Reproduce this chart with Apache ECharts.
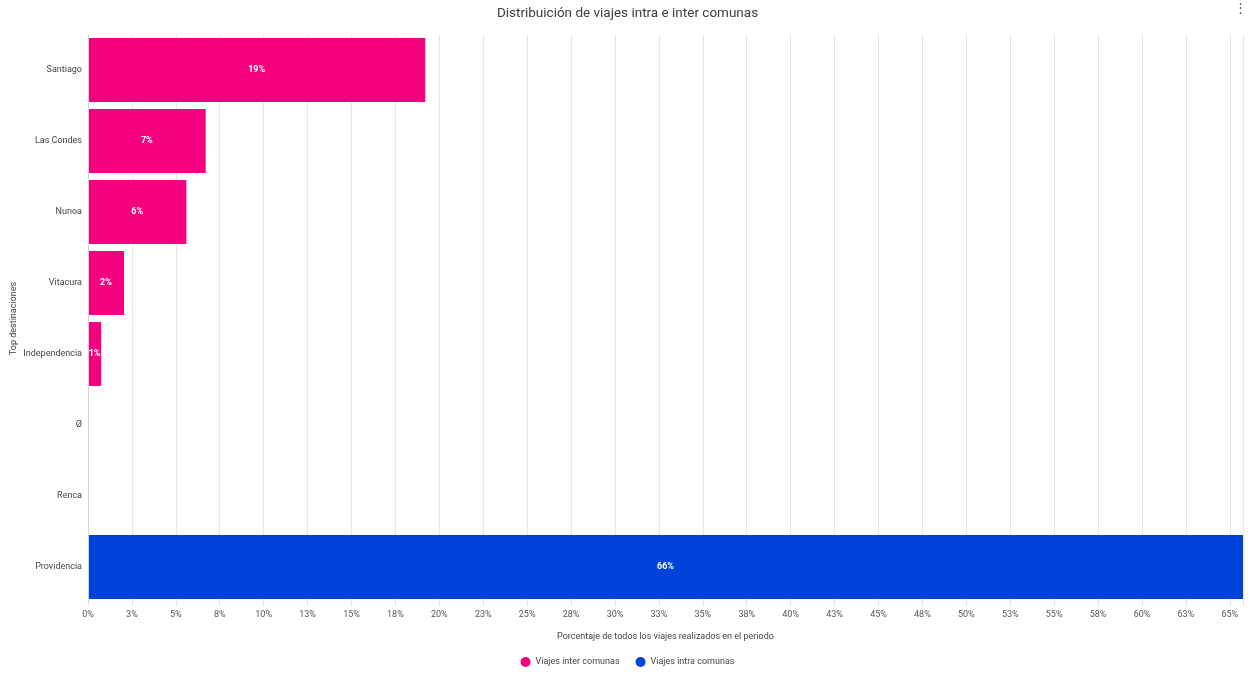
<!DOCTYPE html>
<html>
<head>
<meta charset="utf-8">
<script src="https://cdn.jsdelivr.net/npm/echarts@6/dist/echarts.min.js"></script>
<style>html,body{margin:0;padding:0;background:#fff}#c{width:1255px;height:675px}</style>
</head>
<body>
<div id="c"></div>
<script>
const categories = ['Santiago', 'Las Condes', 'Nunoa', 'Vitacura', 'Independencia', 'Ø', 'Renca', 'Providencia'];
const interValues = [19.2, 6.7, 5.6, 2.05, 0.75, 0.01, 0.01, '-'];
const intraValues = ['-', '-', '-', '-', '-', '-', '-', 65.75];
const seriesNames = ['Viajes inter comunas', 'Viajes intra comunas'];
const titleText = 'Distribuición de viajes intra e inter comunas';
const xAxisTitle = 'Porcentaje de todos los viajes realizados en el periodo';
const yAxisTitle = 'Top destinaciones';

const allVals = interValues.concat(intraValues).filter(v => v !== '-');
const maxVal = Math.max.apply(null, allVals);

const chart = echarts.init(document.getElementById('c'));
const fontFamily = 'Roboto, "Noto Sans", sans-serif';
const barLabel = {
  show: true,
  position: 'inside',
  color: '#fff',
  fontWeight: 'bold',
  fontSize: 9,
  fontFamily: fontFamily,
  formatter: p => (p.value >= 0.5 ? Math.round(p.value) + '%' : '')
};
chart.setOption({
  animation: false,
  textStyle: { fontFamily: fontFamily },
  title: {
    text: titleText,
    left: 'center',
    top: 2,
    textStyle: { fontSize: 13.5, fontWeight: 'normal', color: '#3c3c3c', fontFamily: fontFamily }
  },
  graphic: [{
    type: 'text', right: 8, top: 2,
    style: { text: '⋮', fontSize: 13, fill: '#666', fontFamily: fontFamily }
  }],
  legend: {
    bottom: 3,
    left: 'center',
    icon: 'circle',
    itemWidth: 10,
    itemHeight: 10,
    itemGap: 16,
    textStyle: { fontSize: 9, color: '#444' },
    data: seriesNames
  },
  grid: { left: 88, right: 12, top: 34.5, bottom: 72.5, containLabel: false, outerBoundsMode: 'none' },
  xAxis: {
    type: 'value',
    min: 0,
    max: maxVal,
    interval: 2.5,
    name: xAxisTitle,
    nameLocation: 'middle',
    nameGap: 30,
    nameMoveOverlap: false,
    nameTextStyle: { fontSize: 9, color: '#444' },
    axisLine: { show: false },
    axisTick: { show: true, length: 3, lineStyle: { color: '#ddd' } },
    splitLine: { show: true, lineStyle: { color: '#e6e6e6' } },
    axisLabel: {
      fontSize: 9, color: '#555', margin: 8,
      formatter: v => (Math.abs(v / 2.5 - Math.round(v / 2.5)) < 1e-6 ? Math.round(v) + '%' : '')
    }
  },
  yAxis: {
    type: 'category',
    data: categories,
    inverse: true,
    z: 5,
    name: yAxisTitle,
    nameLocation: 'middle',
    nameGap: 70,
    nameMoveOverlap: false,
    nameTextStyle: { fontSize: 9, color: '#444' },
    axisLine: { show: true, lineStyle: { color: '#c9d4ef' } },
    axisTick: { show: false },
    axisLabel: { fontSize: 9, color: '#444', margin: 6 }
  },
  series: [
    {
      name: seriesNames[0], type: 'bar', stack: 'a', data: interValues,
      barCategoryGap: '10%', itemStyle: { color: '#f5017f' }, label: barLabel
    },
    {
      name: seriesNames[1], type: 'bar', stack: 'a', data: intraValues,
      barCategoryGap: '10%', itemStyle: { color: '#0043db' }, label: barLabel
    }
  ]
});
</script>
</body>
</html>
